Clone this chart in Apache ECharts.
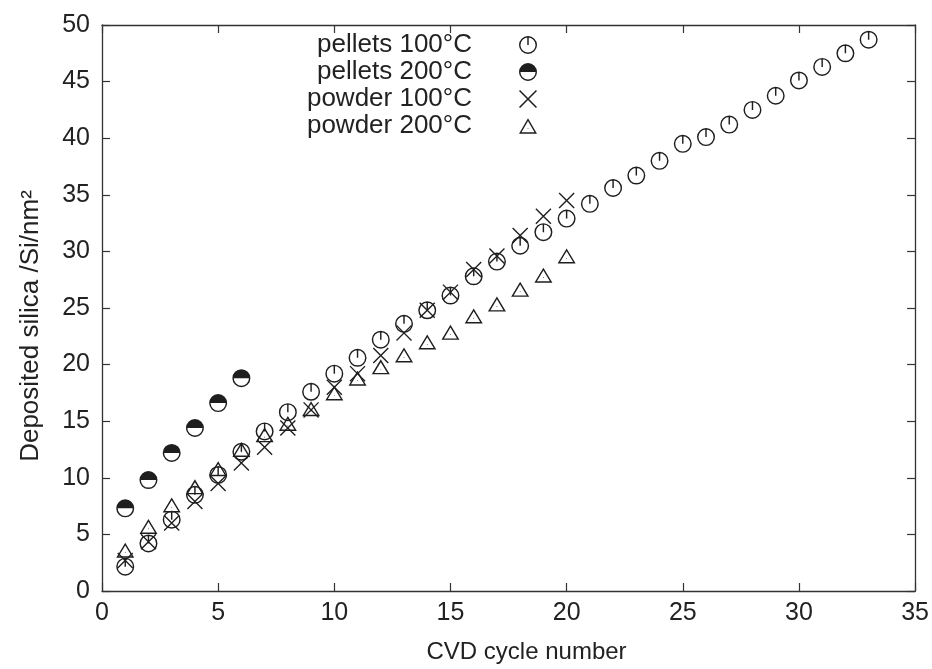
<!DOCTYPE html>
<html><head><meta charset="utf-8">
<script src="https://cdn.jsdelivr.net/npm/echarts@6/dist/echarts.min.js"></script>
<style>html,body{margin:0;padding:0;background:#fff}#c{width:932px;height:669px}</style>
</head><body><div id="c"></div>
<script>
const cycles = [1,2,3,4,5,6,7,8,9,10,11,12,13,14,15,16,17,18,19,20,21,22,23,24,25,26,27,28,29,30,31,32,33];
const pellets100 = [2.15,4.2,6.3,8.5,10.25,12.3,14.1,15.8,17.6,19.2,20.6,22.2,23.6,24.8,26.1,27.8,29.1,30.5,31.7,32.9,34.2,35.6,36.7,38.0,39.5,40.1,41.2,42.5,43.75,45.1,46.3,47.5,48.7];
const pellets200 = [7.3,9.8,12.2,14.4,16.6,18.8];
const powder100 = [2.7,4.35,6.0,7.9,9.5,11.3,12.7,14.4,16.0,18.0,19.2,20.8,22.8,24.8,26.4,28.4,29.6,31.4,33.1,34.5];
const powder200 = [3.6,5.7,7.6,9.2,10.8,12.5,13.8,14.8,16.1,17.5,18.8,19.8,20.85,22.0,22.85,24.3,25.35,26.65,27.9,29.6];
const seriesNames = ['pellets 100°C','pellets 200°C','powder 100°C','powder 200°C'];
const xRange = [0, 35, 5];
const yRange = [0, 50, 5];

const INK = '#1e1e1e';
const FONT = 'Liberation Sans';
const symCircleTick = 'path://M50,0 A50,50 0 1,1 50,100 A50,50 0 1,1 50,0 Z M50,8 A42,42 0 1,0 50,92 A42,42 0 1,0 50,8 Z M46,8 L54,8 L54,50 L46,50 Z';
const symHalf = 'path://M0,50 A50,50 0 0,1 100,50 A50,50 0 0,1 0,50 Z M8,50 A42,42 0 0,0 92,50 L8,50 Z';
const symX = 'path://M0,6 L6,0 L100,94 L94,100 Z M94,0 L100,6 L6,100 L0,94 Z';
const symTri = 'path://M50,0 L100,86.6 L0,86.6 Z M50,16 L13.9,78.6 L86.1,78.6 Z M48,55 L52,55 L52,59 L48,59 Z';

const pair = (vals) => vals.map((v, i) => [cycles[i], v]);

function mkSeries(name, data, symbol, size, z) {
  return { type: 'scatter', name, data, symbol, symbolSize: size, z,
    itemStyle: { color: INK, opacity: 1 }, emphasis: { disabled: true }, animation: false };
}

function axisLine() { return { show: true, onZero: false, lineStyle: { color: '#333', width: 1.3 } }; }
function axisTick() { return { show: true, inside: true, length: 8, lineStyle: { color: '#333', width: 1.2 } }; }
const labelStyle = { fontFamily: FONT, fontSize: 25, color: '#222' };

const chart = echarts.init(document.getElementById('c'), null, { renderer: 'canvas' });
chart.setOption({
  backgroundColor: '#fff',
  animation: false,
  grid: { left: 102, right: 15, top: 25, bottom: 78, containLabel: false },
  legend: {
    orient: 'vertical', align: 'right', right: 395, top: 32, padding: 0,
    itemWidth: 18, itemHeight: 18, itemGap: 1,
    textStyle: { fontFamily: FONT, fontSize: 26, color: '#222', padding: [0, 42, 0, 0] },
    data: seriesNames.map((n) => ({ name: n })),
    selectedMode: false
  },
  xAxis: [
    { type: 'value', min: xRange[0], max: xRange[1], interval: xRange[2], position: 'bottom',
      axisLine: axisLine(), axisTick: axisTick(), splitLine: { show: false },
      axisLabel: Object.assign({ margin: 10 }, labelStyle),
      name: 'CVD cycle number', nameLocation: 'middle', nameGap: 49,
      nameTextStyle: { fontFamily: FONT, fontSize: 24, color: '#222', padding: [0, 0, 0, 36] } },
    { type: 'value', min: xRange[0], max: xRange[1], interval: xRange[2], position: 'top',
      axisLine: axisLine(), axisTick: axisTick(), splitLine: { show: false }, axisLabel: { show: false } }
  ],
  yAxis: [
    { type: 'value', min: yRange[0], max: yRange[1], interval: yRange[2], position: 'left',
      axisLine: axisLine(), axisTick: axisTick(), splitLine: { show: false },
      axisLabel: Object.assign({ margin: 12 }, labelStyle),
      name: 'Deposited silica /Si/nm²', nameLocation: 'middle', nameGap: 58,
      nameTextStyle: { fontFamily: FONT, fontSize: 26, color: '#222', padding: [0, 36, 0, 0] } },
    { type: 'value', min: yRange[0], max: yRange[1], interval: yRange[2], position: 'right',
      axisLine: axisLine(), axisTick: axisTick(), splitLine: { show: false }, axisLabel: { show: false } }
  ],
  series: [
    mkSeries(seriesNames[0], pair(pellets100), symCircleTick, 18, 3),
    mkSeries(seriesNames[1], pair(pellets200), symHalf, 18, 3),
    mkSeries(seriesNames[2], pair(powder100), symX, 16, 4),
    mkSeries(seriesNames[3], pair(powder200), symTri, [18, 15], 2)
  ]
});
</script></body></html>
